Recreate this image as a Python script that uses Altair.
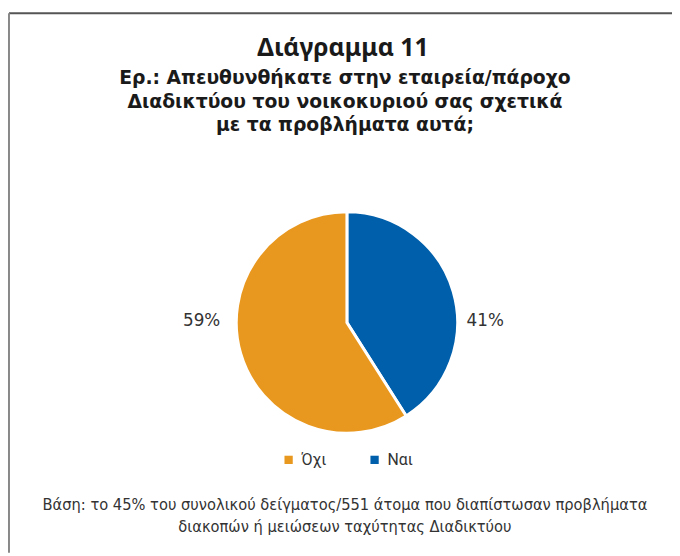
import altair as alt
import pandas as pd

categories = ["Ναι", "Όχι"]
values = [41, 59]
order = [1, 2]
labels = ["41%", "59%"]

title_line = "Διάγραμμα 11"
subtitle_lines = [
    "Ερ.: Απευθυνθήκατε στην εταιρεία/πάροχο",
    "Διαδικτύου του νοικοκυριού σας σχετικά",
    "με τα προβλήματα αυτά;",
]
footer_lines = [
    "Βάση: το 45% του συνολικού δείγματος/551 άτομα που διαπίστωσαν προβλήματα",
    "διακοπών ή μειώσεων ταχύτητας Διαδικτύου",
]

legend_order = ["Όχι", "Ναι"]
colors = ["#E9981F", "#005FAB"]

df = pd.DataFrame({"cat": categories, "val": values, "ord": order, "label": labels})

color_scale = alt.Scale(domain=legend_order, range=colors)

base = alt.Chart(df)

pie = base.mark_arc(outerRadius=112, stroke="white", strokeWidth=3).encode(
    theta=alt.Theta("val:Q", stack=True),
    order=alt.Order("ord:Q"),
    color=alt.Color(
        "cat:N",
        scale=color_scale,
        sort=legend_order,
        legend=alt.Legend(
            title=None,
            orient="none",
            direction="horizontal",
            legendX=276,
            legendY=446,
            symbolType="square",
            symbolSize=70,
            symbolStrokeWidth=0,
            labelFont="Roboto",
            labelFontSize=16,
            labelColor="#333333",
            columnPadding=40,
            labelOffset=5,
        ),
    ),
    x=alt.value(343),
    y=alt.value(315),
)

pct = base.mark_text(font="DejaVu Sans", fontSize=17, color="#333333", baseline="middle").encode(
    x=alt.X("cat:N", scale=alt.Scale(domain=["Όχι", "Ναι"], range=[196, 483], padding=0), axis=None),
    y=alt.value(314),
    text="label:N",
)

txt = alt.Chart(pd.DataFrame({"a": [0]}))

title = txt.mark_text(
    text=title_line, font="Noto Sans", fontWeight="bold", fontSize=25, color="#1a1a1a",
    align="center", baseline="alphabetic",
).encode(x=alt.value(339), y=alt.value(45))

subtitle = txt.mark_text(
    text=subtitle_lines, font="DejaVu Sans", fontWeight="bold", fontSize=19, color="#1a1a1a",
    align="center", baseline="alphabetic", lineHeight=23.5,
).encode(x=alt.value(341), y=alt.value(74))

footer = txt.mark_text(
    text=footer_lines,
    font="'Liberation Sans Narrow', 'DejaVu Sans Condensed', 'Roboto Condensed', Roboto, sans-serif",
    fontSize=16.5, color="#333333",
    align="center", baseline="alphabetic", lineHeight=22,
).encode(x=alt.value(341), y=alt.value(505))

top_rule = txt.mark_rule(color="#555555", strokeWidth=2).encode(
    x=alt.value(1), x2=alt.value(672), y=alt.value(2)
)
left_rule = txt.mark_rule(color="#888888", strokeWidth=2).encode(
    x=alt.value(1), y=alt.value(2), y2=alt.value(548)
)

chart = alt.layer(top_rule, left_rule, pie, pct, title, subtitle, footer).properties(
    width=672, height=548, autosize=alt.AutoSizeParams(type="none"), padding=0
).configure_view(stroke=None).resolve_scale(x="independent")

chart.save("out.html", embed_options={"renderer": "svg", "actions": False})
